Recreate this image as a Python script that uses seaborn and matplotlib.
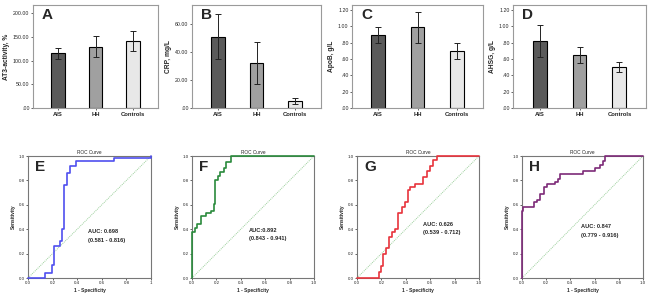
# bar charts (A-D) and ROC curves (E-H)
import numpy as np
import pandas as pd
import seaborn as sns
import matplotlib
matplotlib.use('Agg')
import matplotlib.pyplot as plt

groups = ['AIS', 'HH', 'Controls']

at3_mean = [115, 129, 142]
at3_err = [11, 22, 21]
crp_mean = [51, 32, 5]
crp_err = [16, 15, 2.3]
apob_mean = [0.89, 0.99, 0.70]
apob_err = [0.10, 0.19, 0.10]
ahsg_mean = [0.82, 0.65, 0.50]
ahsg_err = [0.195, 0.10, 0.06]

at3_ticks = [0, 50, 100, 150, 200]
at3_ticklabels = ['.00', '50.00', '100.00', '150.00', '200.00']
crp_ticks = [0, 20, 40, 60]
crp_ticklabels = ['.00', '20.00', '40.00', '60.00']
g_ticks = [0, 0.2, 0.4, 0.6, 0.8, 1.0, 1.2]
g_ticklabels = ['.00', '.20', '.40', '.60', '.80', '1.00', '1.20']

# ROC step corners (1 - specificity, sensitivity)
e_fpr = [0, 0.141, 0.196, 0.212, 0.258, 0.277, 0.293, 0.32, 0.342, 0.394, 0.701, 1.0]
e_tpr = [0, 0.041, 0.104, 0.26, 0.304, 0.40, 0.762, 0.86, 0.92, 0.96, 0.98, 1.0]
f_fpr = [0, 0, 0.022, 0.041, 0.077, 0.117, 0.158, 0.18, 0.19, 0.213, 0.227, 0.262, 0.281, 0.322, 1.0]
f_tpr = [0, 0.38, 0.41, 0.445, 0.51, 0.53, 0.55, 0.61, 0.80, 0.84, 0.87, 0.90, 0.95, 1.0, 1.0]
g_fpr = [0, 0.177, 0.196, 0.217, 0.239, 0.266, 0.285, 0.3125, 0.34, 0.367, 0.394, 0.421, 0.435,
         0.476, 0.538, 0.571, 0.598, 0.625, 0.652, 1.0]
g_tpr = [0, 0.05, 0.10, 0.20, 0.25, 0.34, 0.38, 0.40, 0.53, 0.58, 0.62, 0.72, 0.75,
         0.77, 0.83, 0.88, 0.92, 0.97, 1.0, 1.0]
h_fpr = [0, 0, 0.005, 0.096, 0.123, 0.151, 0.178, 0.205, 0.274, 0.296, 0.315, 0.507, 0.603,
         0.644, 0.671, 0.69, 1.0]
h_tpr = [0, 0.546, 0.58, 0.62, 0.64, 0.69, 0.745, 0.77, 0.79, 0.81, 0.85, 0.88, 0.90,
         0.93, 0.96, 1.0, 1.0]

auc_text = ['AUC: 0.698\n\n(0.581 - 0.816)', 'AUC:0.892\n\n(0.843 - 0.941)',
            'AUC: 0.626\n\n(0.539 - 0.712)', 'AUC: 0.847\n\n(0.779 - 0.916)']
roc_ticks = [0, 0.2, 0.4, 0.6, 0.8, 1.0]

sns.set_style('ticks')
plt.rcParams['font.family'] = ['Liberation Sans', 'DejaVu Sans']

fig = plt.figure(figsize=(6.5, 2.95), dpi=100)

bar_pos = [(33, 125), (192, 129), (352, 131), (513, 133)]
bar_data = [
    ('A', at3_mean, at3_err, 'AT3-activity, %', at3_ticks, at3_ticklabels, 217),
    ('B', crp_mean, crp_err, 'CRP, mg/L', crp_ticks, crp_ticklabels, 73.6),
    ('C', apob_mean, apob_err, 'ApoB, g/L', g_ticks, g_ticklabels, 1.26),
    ('D', ahsg_mean, ahsg_err, 'AHSG, g/L', g_ticks, g_ticklabels, 1.26),
]
bar_colors = ['#5a5a5a', '#a0a0a0', '#e8e8e8']

for (left, w), (letter, mean, err, ylab, ticks, tlabels, ymax) in zip(bar_pos, bar_data):
    ax = fig.add_axes([left / 650, 1 - 108 / 295, w / 650, 103 / 295])
    df = pd.DataFrame({'group': groups, 'value': mean})
    sns.barplot(data=df, x='group', y='value', hue='group', palette=bar_colors,
                width=0.35, edgecolor='black', linewidth=0.8, errorbar=None,
                legend=False, ax=ax)
    ax.errorbar(range(3), mean, yerr=err, fmt='none', ecolor='#222222',
                elinewidth=0.7, capsize=2.5, capthick=0.7)
    ax.set_xlim(-0.667, 2.667)
    ax.set_ylim(0, ymax)
    ax.set_yticks(ticks)
    ax.set_yticklabels(tlabels)
    ax.set_xlabel('')
    ax.set_ylabel(ylab, fontsize=4.8, fontweight='bold', labelpad=2)
    ax.tick_params(axis='y', labelsize=3.8, length=1.5, width=0.5, pad=1)
    ax.tick_params(axis='x', labelsize=4.2, length=1.5, width=0.5, pad=1.5)
    for t in ax.get_xticklabels():
        t.set_fontweight('bold')
    for s in ax.spines.values():
        s.set_color('#9a9a9a')
        s.set_linewidth(0.8)
    ax.text(0.07, 0.97, letter, transform=ax.transAxes, fontsize=11,
            fontweight='bold', va='top', ha='left')

roc_pos = [(28, 123), (192, 122), (357, 122), (522, 121)]
roc_data = [
    ('E', e_fpr, e_tpr, '#4f4fef', ['0.0', '0.2', '0.4', '0.6', '0.8', '1'], (0.49, 0.29)),
    ('F', f_fpr, f_tpr, '#2a8a3c', ['0.0', '0.2', '0.4', '0.6', '0.8', '1.0'], (0.47, 0.30)),
    ('G', g_fpr, g_tpr, '#e8333c', ['0.0', '0.2', '0.4', '0.6', '0.8', '1.0'], (0.54, 0.35)),
    ('H', h_fpr, h_tpr, '#7d2a78', ['0.0', '0.2', '0.4', '0.6', '0.8', '1.0'], (0.49, 0.33)),
]

for (left, w), (letter, fpr, tpr, col, xtl, tpos), txt in zip(roc_pos, roc_data, auc_text):
    ax = fig.add_axes([left / 650, 1 - 278 / 295, w / 650, 122 / 295])
    ax.plot([0, 1], [0, 1], color='#9ccf9c', lw=0.7, ls=(0, (1, 1)))
    sns.lineplot(x=fpr, y=tpr, sort=False, estimator=None, drawstyle='steps-post',
                 color=col, lw=1.2, clip_on=False, zorder=3, ax=ax)
    ax.set_xlim(0, 1)
    ax.set_ylim(0, 1)
    ax.set_xticks(roc_ticks)
    ax.set_xticklabels(xtl)
    ax.set_yticks(roc_ticks)
    ax.set_yticklabels(['0.0', '0.2', '0.4', '0.6', '0.8', '1.0'])
    ax.tick_params(labelsize=3.2, length=1.5, width=0.5, pad=1)
    ax.set_title('ROC Curve', fontsize=3.4, pad=1.5)
    ax.set_xlabel('1 - Specificity', fontsize=3.5, fontweight='bold', labelpad=2)
    ax.set_ylabel('Sensitivity', fontsize=3.5, fontweight='bold', labelpad=2)
    for s in ax.spines.values():
        s.set_color('#777777')
        s.set_linewidth(0.8)
    ax.text(0.06, 0.97, letter, transform=ax.transAxes, fontsize=11,
            fontweight='bold', va='top', ha='left')
    ax.text(tpos[0], tpos[1], txt, fontsize=4.1, fontweight='bold',
            linespacing=0.85, ha='left', va='bottom')

fig.savefig('out.png', dpi=100)
